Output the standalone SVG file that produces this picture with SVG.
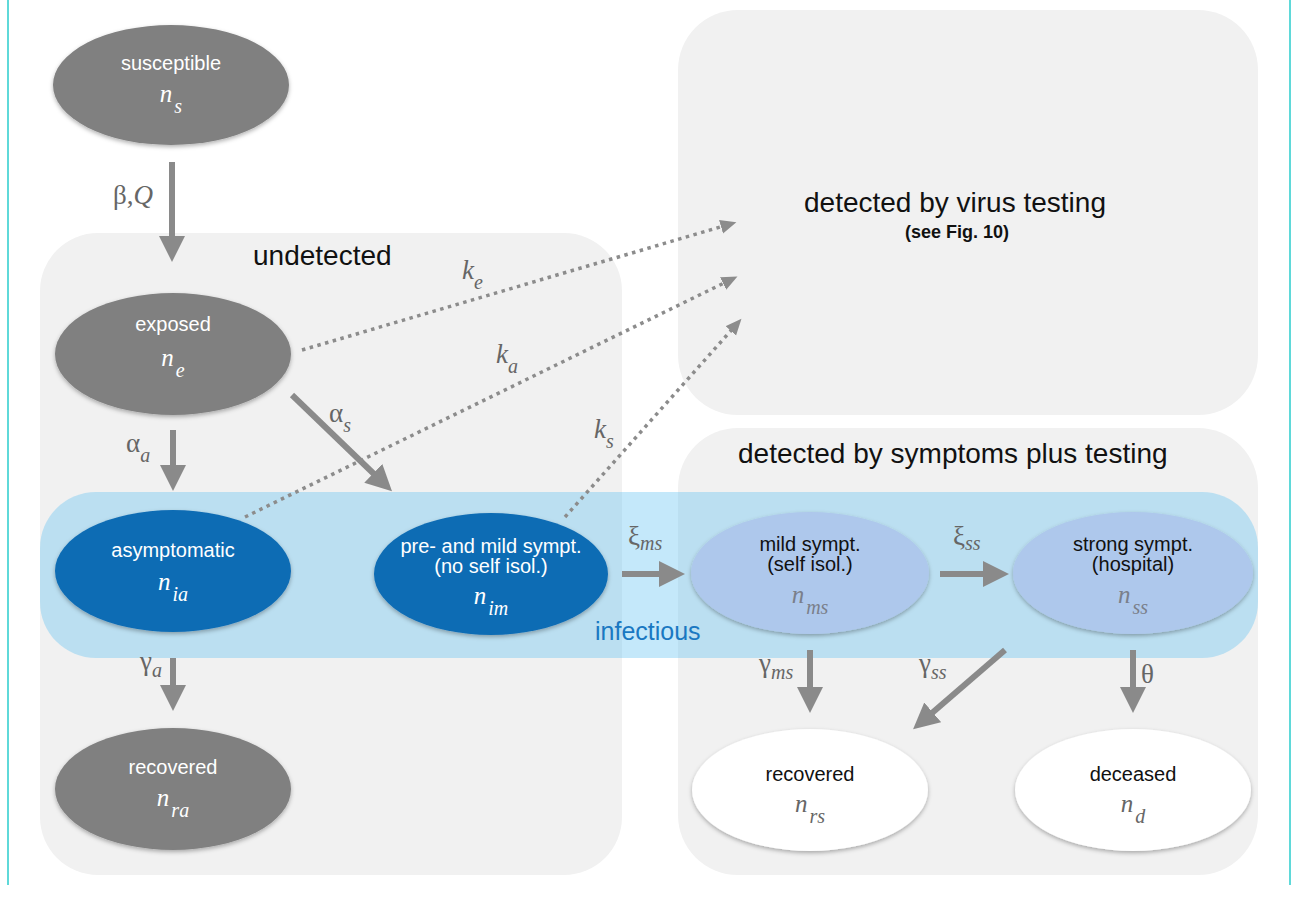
<svg xmlns="http://www.w3.org/2000/svg" width="1298" height="897" viewBox="0 0 1298 897">
<defs>
<style>
.panel{fill:#f1f1f1}
.band{fill:#5bbff0;fill-opacity:0.36}
.ng{fill:#808080}
.nb{fill:#116cb4}
.nl{fill:#aec8ec}
.nw{fill:#ffffff}
.lbl{font-family:"Liberation Sans",Arial,sans-serif;font-size:20px;text-anchor:middle}
.wt{fill:#ffffff}
.bk{fill:#111111}
.title{font-family:"Liberation Sans",Arial,sans-serif;font-size:28px;fill:#111}
.m{font-family:"Liberation Serif","Times New Roman",serif;font-style:italic;font-size:25px;text-anchor:middle}
.sub{font-size:20px}
.g{font-family:"Liberation Serif","Times New Roman",serif;font-size:27px;fill:#666}
.it{font-style:italic}
.arr{stroke:#8a8a8a;stroke-width:6;fill:none;marker-end:url(#ah)}
.dot{stroke:#8c8c8c;stroke-width:3.5;stroke-dasharray:3.5 4.5;fill:none;marker-end:url(#dh)}
.edge{stroke:#5fd9d9;stroke-width:2}
</style>
<marker id="ah" markerUnits="userSpaceOnUse" markerWidth="30" markerHeight="30" refX="1" refY="13" orient="auto"><path d="M0,0 L26,13 L0,26 z" fill="#8a8a8a"/></marker>
<marker id="dh" markerUnits="userSpaceOnUse" markerWidth="20" markerHeight="16" refX="1" refY="7" orient="auto"><path d="M0,0 L16,7 L0,14 z" fill="#8c8c8c"/></marker>
<filter id="sh" x="-10%" y="-10%" width="120%" height="130%"><feDropShadow dx="0" dy="2" stdDeviation="2" flood-color="#000" flood-opacity="0.3"/></filter>
</defs>

<rect width="1298" height="897" fill="#ffffff"/>
<line class="edge" x1="8" y1="0" x2="8" y2="885"/>
<line class="edge" x1="1290" y1="0" x2="1290" y2="885"/>

<g id="panel-undetected">
<rect class="panel" x="40" y="233" width="582" height="642" rx="58"/>
<text class="title" x="253" y="265">undetected</text>
</g>
<g id="panel-virus">
<rect class="panel" x="678" y="10" width="580" height="405" rx="60"/>
<text class="title" x="955" y="212" text-anchor="middle">detected by virus testing</text>
<text x="957" y="238" text-anchor="middle" font-family="Liberation Sans, Arial, sans-serif" font-size="18" font-weight="bold" fill="#111">(see Fig. 10)</text>
</g>
<g id="panel-symptoms">
<rect class="panel" x="678" y="428" width="580" height="447" rx="60"/>
<text class="title" x="738" y="463">detected by symptoms plus testing</text>
</g>
<g id="band-infectious">
<rect class="band" x="40" y="492" width="1218" height="166" rx="56"/>
<text x="595" y="640" font-family="Liberation Sans, Arial, sans-serif" font-size="25" fill="#1a78c2">infectious</text>
</g>

<g id="connectors">
<line class="arr" x1="172" y1="162" x2="172" y2="237"/>
<line class="arr" x1="173" y1="430" x2="173" y2="466"/>
<line class="arr" x1="292" y1="395" x2="374" y2="474"/>
<line class="arr" x1="622" y1="574" x2="660" y2="574"/>
<line class="arr" x1="940" y1="574" x2="984" y2="574"/>
<line class="arr" x1="173" y1="658" x2="173" y2="686"/>
<line class="arr" x1="810" y1="650" x2="810" y2="688"/>
<line class="arr" x1="1005" y1="650" x2="932" y2="713"/>
<line class="arr" x1="1133" y1="650" x2="1133" y2="688"/>
<line class="dot" x1="302" y1="350" x2="722" y2="226.5"/>
<line class="dot" x1="245" y1="517" x2="724" y2="283"/>
<line class="dot" x1="565" y1="517" x2="731.5" y2="330"/>
<text class="g" x="113" y="204">β,<tspan class="it">Q</tspan></text>
<text class="g" x="126" y="452">α<tspan class="sub it" dy="10">a</tspan></text>
<text class="g" x="329" y="422">α<tspan class="sub it" dy="10">s</tspan></text>
<text class="g it" x="462" y="279">k<tspan class="sub" dy="10">e</tspan></text>
<text class="g it" x="496" y="363">k<tspan class="sub" dy="10">a</tspan></text>
<text class="g it" x="594" y="438">k<tspan class="sub" dy="10">s</tspan></text>
<text class="g" x="628" y="545">ξ<tspan class="sub it" dy="5">ms</tspan></text>
<text class="g" x="953" y="545">ξ<tspan class="sub it" dy="5">ss</tspan></text>
<text class="g" x="140" y="670">γ<tspan class="sub it" dy="7">a</tspan></text>
<text class="g" x="759" y="672">γ<tspan class="sub it" dy="7">ms</tspan></text>
<text class="g" x="919" y="672">γ<tspan class="sub it" dy="7">ss</tspan></text>
<text class="g" x="1141" y="683">θ</text>
</g>

<g id="node-susceptible">
<ellipse class="ng" cx="171" cy="85" rx="118" ry="60" filter="url(#sh)"/>
<text class="lbl wt" x="171" y="70">susceptible</text>
<text class="m wt" x="171" y="102">n<tspan class="sub" dx="2" dy="11">s</tspan></text>
</g>
<g id="node-exposed">
<ellipse class="ng" cx="173" cy="354" rx="118" ry="61" filter="url(#sh)"/>
<text class="lbl wt" x="173" y="331">exposed</text>
<text class="m wt" x="173" y="366">n<tspan class="sub" dx="2" dy="11">e</tspan></text>
</g>
<g id="node-asymptomatic">
<ellipse class="nb" cx="173" cy="571" rx="118" ry="61" filter="url(#sh)"/>
<text class="lbl wt" x="173" y="557">asymptomatic</text>
<text class="m wt" x="173" y="590">n<tspan class="sub" dx="2" dy="11">ia</tspan></text>
</g>
<g id="node-premild">
<ellipse class="nb" cx="491" cy="574" rx="117" ry="61" filter="url(#sh)"/>
<text class="lbl wt" x="491" y="553">pre- and mild sympt.</text>
<text class="lbl wt" x="491" y="573">(no self isol.)</text>
<text class="m wt" x="491" y="604">n<tspan class="sub" dx="2" dy="11">im</tspan></text>
</g>
<g id="node-mild">
<ellipse class="nl" cx="810" cy="573" rx="119" ry="61" filter="url(#sh)"/>
<text class="lbl bk" x="810" y="551">mild sympt.</text>
<text class="lbl bk" x="810" y="571">(self isol.)</text>
<text class="m" x="810" y="603" fill="#7a7f8a">n<tspan class="sub" dx="2" dy="11">ms</tspan></text>
</g>
<g id="node-strong">
<ellipse class="nl" cx="1133" cy="573" rx="120" ry="61" filter="url(#sh)"/>
<text class="lbl bk" x="1133" y="551">strong sympt.</text>
<text class="lbl bk" x="1133" y="571">(hospital)</text>
<text class="m" x="1133" y="603" fill="#7a7f8a">n<tspan class="sub" dx="2" dy="11">ss</tspan></text>
</g>
<g id="node-recovered-a">
<ellipse class="ng" cx="173" cy="789" rx="118" ry="61" filter="url(#sh)"/>
<text class="lbl wt" x="173" y="774">recovered</text>
<text class="m wt" x="173" y="806">n<tspan class="sub" dx="2" dy="11">ra</tspan></text>
</g>
<g id="node-recovered-s">
<ellipse class="nw" cx="810" cy="790" rx="118" ry="61" filter="url(#sh)"/>
<text class="lbl bk" x="810" y="781">recovered</text>
<text class="m" x="810" y="812" fill="#666">n<tspan class="sub" dx="2" dy="11">rs</tspan></text>
</g>
<g id="node-deceased">
<ellipse class="nw" cx="1133" cy="790" rx="118" ry="61" filter="url(#sh)"/>
<text class="lbl bk" x="1133" y="781">deceased</text>
<text class="m" x="1133" y="812" fill="#666">n<tspan class="sub" dx="2" dy="11">d</tspan></text>
</g>
</svg>
